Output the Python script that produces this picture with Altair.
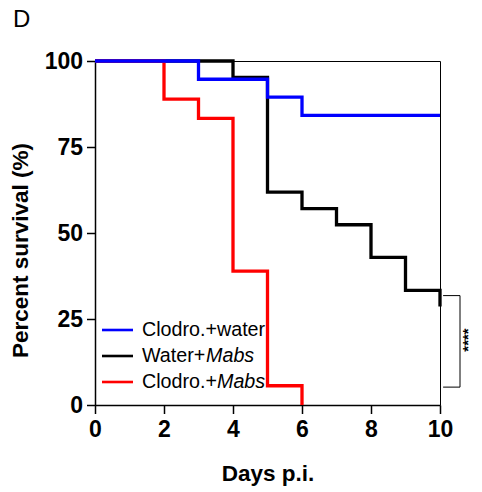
import altair as alt
import pandas as pd

# ---------------- data ----------------
series_names = ["Clodro.+water", "Water+Mabs", "Clodro.+Mabs"]
series_colors = ["#0000ff", "#000000", "#ff0000"]

blue_days = [0, 3, 5, 6, 10]
blue_surv = [100, 94.7, 89.5, 84.2, 84.2]
black_days = [0, 4, 5, 6, 7, 8, 9, 10]
black_surv = [100, 95.2, 61.9, 57.1, 52.4, 42.9, 33.3, 28.6]
red_days = [0, 2, 3, 4, 5, 6]
red_surv = [100, 88.9, 83.3, 38.9, 5.6, 0]

x_ticks = [0, 2, 4, 6, 8, 10]
y_ticks = [0, 25, 50, 75, 100]

# significance bracket (days / percent)
bracket_left = 10.09
bracket_right = 10.58
bracket_top = 31.8
bracket_bottom = 5.2
sig_day = 10.8
sig_mid = 18.9
sig_text = "****"

# legend text: plain part + italic part
legend_plain = ["Clodro.+water", "Water+", "Clodro.+"]
legend_italic = ["", "Mabs", "Mabs"]

panel_label = "D"

FONT = "Liberation Sans"
W, H = 345, 344

# ---------------- encodings ----------------
X = alt.X(
    "day:Q",
    scale=alt.Scale(domain=[0, 10], nice=False, zero=False),
    axis=alt.Axis(
        values=x_ticks, title="Days p.i.", grid=False,
        domainColor="black", domainWidth=1.5,
        tickColor="black", tickWidth=1.5, tickSize=8.5,
        labelFont=FONT, labelFontSize=23, labelFontWeight="bold", labelColor="black",
        labelBaseline="alphabetic", labelPadding=23, labelFlush=False, labelOverlap=False,
        titleFont=FONT, titleFontSize=22.5, titleFontWeight="bold", titleColor="black",
        titleBaseline="alphabetic", titleY=75.5,
    ),
)
Y = alt.Y(
    "surv:Q",
    scale=alt.Scale(domain=[0, 100], nice=False),
    axis=alt.Axis(
        values=y_ticks, title="Percent survival (%)", grid=False,
        domainColor="black", domainWidth=1.5,
        tickColor="black", tickWidth=1.5, tickSize=8.5,
        labelFont=FONT, labelFontSize=23, labelFontWeight="bold", labelColor="black",
        labelPadding=4, labelFlush=False, labelOverlap=False,
        titleFont=FONT, titleFontSize=22.5, titleFontWeight="bold", titleColor="black",
        titleAngle=270, titleBaseline="alphabetic", titleAlign="center",
        titleX=-68, titleY=189,
    ),
)


def step_line(days, surv, color):
    df = pd.DataFrame({"day": days, "surv": surv})
    return alt.Chart(df).mark_line(
        interpolate="step-after", color=color, strokeWidth=3.3, strokeJoin="miter"
    ).encode(x=X, y=Y)


black = step_line(black_days, black_surv, series_colors[1])
red = step_line(red_days, red_surv, series_colors[2])
blue = step_line(blue_days, blue_surv, series_colors[0])

bracket_df = pd.DataFrame({
    "day": [bracket_right, bracket_left, bracket_left],
    "day2": [bracket_right, bracket_right, bracket_right],
    "surv": [bracket_top, bracket_top, bracket_bottom],
    "surv2": [bracket_bottom, bracket_top, bracket_bottom],
})
bracket = alt.Chart(bracket_df).mark_rule(color="black", strokeWidth=1).encode(
    x=X, x2="day2:Q", y=Y, y2="surv2:Q"
)
stars = alt.Chart(pd.DataFrame({"day": [sig_day], "surv": [sig_mid], "t": [sig_text]})).mark_text(
    angle=270, fontSize=15, fontWeight="bold", font=FONT, color="black",
    align="center", baseline="middle"
).encode(x=X, y=Y, text="t:N")

# ---------------- legend (manual, to allow italic "Mabs") ----------------
ARIAL = {"C": .722, "l": .222, "o": .556, "d": .556, "r": .333, ".": .278, "+": .584,
         "W": .944, "a": .556, "t": .278, "e": .556, "w": .722}
LEG_FS = 19.7


def text_width(s, fs):
    return sum(ARIAL.get(c, .556) for c in s) * fs


one = pd.DataFrame({"k": [0]})
leg_x0, leg_x1, leg_tx = 7, 38, 47
leg_y0, leg_dy = 269, 26
legend_layers = []
for i, name in enumerate(series_names):
    yy = leg_y0 + i * leg_dy
    legend_layers.append(
        alt.Chart(one).mark_rule(color=series_colors[i], strokeWidth=2.6).encode(
            x=alt.value(leg_x0), x2=alt.value(leg_x1), y=alt.value(yy)
        )
    )
    legend_layers.append(
        alt.Chart(one).mark_text(
            align="left", baseline="middle", font=FONT, fontSize=LEG_FS, color="black"
        ).encode(x=alt.value(leg_tx), y=alt.value(yy), text=alt.value(legend_plain[i]))
    )
    if legend_italic[i]:
        legend_layers.append(
            alt.Chart(one).mark_text(
                align="left", baseline="middle", font=FONT, fontSize=LEG_FS,
                fontStyle="italic", color="black"
            ).encode(
                x=alt.value(leg_tx + text_width(legend_plain[i], LEG_FS)),
                y=alt.value(yy), text=alt.value(legend_italic[i])
            )
        )

label = alt.Chart(one).mark_text(
    align="left", baseline="alphabetic", font=FONT, fontSize=24, color="black"
).encode(x=alt.value(-82), y=alt.value(-34), text=alt.value(panel_label))

chart = alt.layer(
    black, red, blue, bracket, stars, *legend_layers, label
).properties(
    width=W, height=H,
    autosize=alt.AutoSizeParams(type="none"),
    padding={"left": 87, "top": 53, "right": 34, "bottom": 81},
    background="white",
).configure_view(stroke="black", strokeWidth=1)

chart.save("out.html", embed_options={"renderer": "svg", "actions": False})
